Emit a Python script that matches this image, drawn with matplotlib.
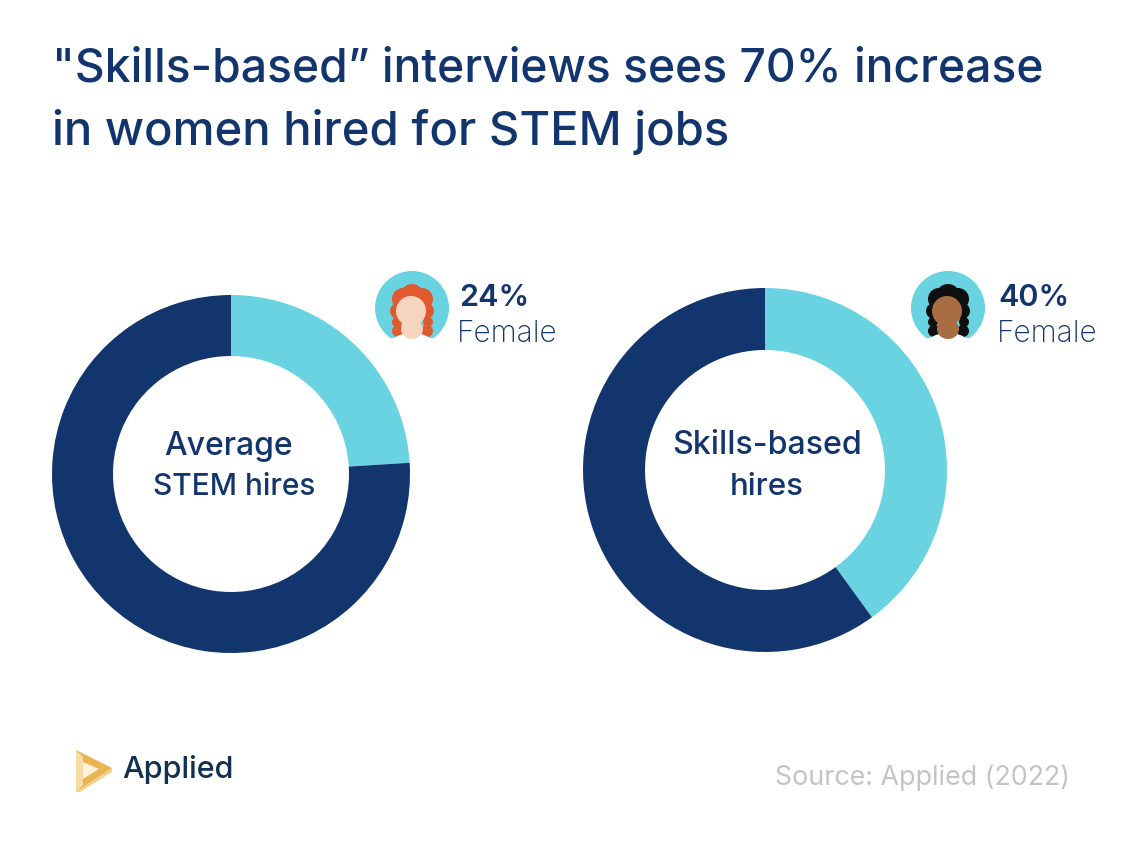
import matplotlib
matplotlib.use("Agg")
import matplotlib.pyplot as plt
from matplotlib.patches import Circle, Ellipse, Polygon, Rectangle

W, H = 1132, 852

# --- Data ---
title_lines = ['"Skills-based” interviews sees 70% increase', "in women hired for STEM jobs"]
female_share = [24, 40]
centre_labels = [["Average", "STEM hires"], ["Skills-based", "hires"]]
share_labels = ["24%", "40%"]
source_text = "Source: Applied (2022)"

NAVY = "#13356d"
CYAN = "#69d3e1"
FONT = "Inter"

fig = plt.figure(figsize=(W / 100, H / 100), dpi=100, facecolor="white")

# overlay in pixel coordinates for text and icons
over = fig.add_axes([0, 0, 1, 1], zorder=2)
over.set_xlim(0, W)
over.set_ylim(H, 0)
over.axis("off")
over.patch.set_alpha(0)


def donut(cx, cy, r, inner, value):
    ax = fig.add_axes([(cx - r) / W, 1 - (cy + r) / H, 2 * r / W, 2 * r / H])
    ax.pie([value, 100 - value], colors=[CYAN, NAVY], startangle=90, counterclock=False,
           radius=1, wedgeprops=dict(width=1 - inner / r, linewidth=0))
    ax.set_xlim(-1, 1)
    ax.set_ylim(-1, 1)


donut(231, 474, 179, 118, female_share[0])
donut(765, 470, 182, 120, female_share[1])


def avatar(cx, cy, hair, skin):
    over.add_patch(Circle((cx, cy), 37, color=CYAN, lw=0))
    over.add_patch(Rectangle((cx - 40, cy + 30), 80, 12, color="white", lw=0))
    # wavy hair made of a few blobs
    for dx, dy, r in [(0, -12, 12), (-9, -9, 11), (10, -9, 11), (-14, 3, 8), (14, 3, 8),
                      (-15, 14, 5), (16, 14, 5), (-14, 23, 6), (15, 23, 6)]:
        over.add_patch(Circle((cx + dx, cy + dy), r, color=hair, lw=0))
    # shoulders, neck and face
    over.add_patch(Ellipse((cx, cy + 36), 42, 22, color="white", lw=0))
    over.add_patch(Rectangle((cx - 40, cy + 30), 18, 12, color="white", lw=0))
    over.add_patch(Rectangle((cx + 22, cy + 30), 18, 12, color="white", lw=0))
    over.add_patch(Ellipse((cx, cy + 21), 22, 20, color=skin, lw=0))
    over.add_patch(Ellipse((cx - 1, cy + 3), 30, 30, color=skin, lw=0))


avatar(412, 308, "#e05a30", "#f6d5c0")
avatar(948, 308, "#0f0f0f", "#a96d43")

# title
over.text(52, 69, title_lines[0], fontsize=33.3, color=NAVY, family=FONT, weight="medium", va="center")
over.text(52, 132, title_lines[1], fontsize=34, color=NAVY, family=FONT, weight="medium", va="center")

# centre labels
over.text(229, 446, centre_labels[0][0], fontsize=23, color=NAVY, family=FONT, weight="medium", ha="center", va="center")
over.text(234, 487, centre_labels[0][1], fontsize=21.5, color=NAVY, family=FONT, weight="medium", ha="center", va="center")
over.text(767, 446, centre_labels[1][0], fontsize=23.2, color=NAVY, family=FONT, weight="medium", ha="center", va="center")
over.text(767, 487, centre_labels[1][1], fontsize=22.5, color=NAVY, family=FONT, weight="medium", ha="center", va="center")

# share labels
over.text(459, 298, share_labels[0], fontsize=22, color=NAVY, family=FONT, weight="semibold", va="center")
over.text(457, 334, "Female", fontsize=21.5, color=NAVY, family=FONT, weight="light", va="center")
over.text(998, 298, share_labels[1], fontsize=22, color=NAVY, family=FONT, weight="semibold", va="center")
over.text(997, 334, "Female", fontsize=21.5, color=NAVY, family=FONT, weight="light", va="center")

# source
over.text(1070, 778, source_text, fontsize=19.3, color="#c4c4c4", family=FONT, weight="normal", ha="right", va="center")

# logo
over.add_patch(Polygon([(76, 750), (112, 768), (76, 792)], color="#e9b552", lw=0))
over.add_patch(Polygon([(76, 750), (83, 757), (83, 785), (76, 792)], color="#f7dca6", lw=0))
over.add_patch(Polygon([(83, 762), (99, 769), (83, 779)], color="#fdf3dd", lw=0))
over.add_patch(Polygon([(112, 768), (112, 772), (80, 792), (76, 792)], color="#f3d08e", lw=0))
over.text(122, 770, "Applied", fontsize=22, color="#12304f", family=FONT, weight="medium", va="center")

fig.savefig("out.png", dpi=100, facecolor="white")
